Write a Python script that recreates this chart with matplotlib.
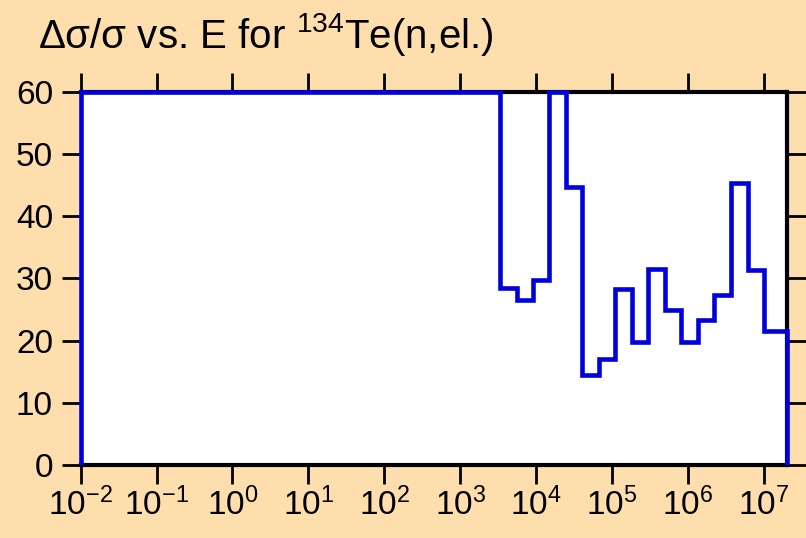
import numpy as np
import matplotlib.pyplot as plt
import matplotlib.ticker as mticker

plt.rcParams['font.family'] = ['Liberation Sans', 'DejaVu Sans']
plt.rcParams['mathtext.fontset'] = 'custom'
plt.rcParams['mathtext.rm'] = 'Liberation Sans'
plt.rcParams['mathtext.it'] = 'Liberation Sans'
plt.rcParams['mathtext.bf'] = 'Liberation Sans:bold'

# bin edges (eV) and relative uncertainty (%)
edges = [1e-2, 3.35e3, 5.6e3, 9.0e3, 1.5e4, 2.5e4, 4.0e4, 6.7e4, 1.1e5,
         1.83e5, 3.0e5, 5.0e5, 8.2e5, 1.35e6, 2.2e6, 3.7e6, 6.1e6, 1.0e7, 2.0e7]
dsig = [60, 28.4, 26.5, 29.8, 60, 44.7, 14.5, 17.0, 28.3,
        19.8, 31.6, 24.9, 19.8, 23.4, 27.3, 45.3, 31.3, 21.6]
xticks = [10.0 ** k for k in range(-2, 8)]

bg = '#FFDEAD'
fig = plt.figure(figsize=(8.06, 5.38), dpi=100, facecolor=bg)
ax = fig.add_axes([0.1001, 0.1357, 0.976 - 0.1001, 0.829 - 0.1357])
ax.set_facecolor('white')

ax.stairs(dsig, edges, baseline=0, color='#0000DD', lw=3.3, zorder=3, clip_on=False)

ax.set_xscale('log')
ax.set_xlim(1e-2, 2e7)
ax.set_ylim(0, 60)
ax.xaxis.set_major_locator(mticker.FixedLocator(xticks))
ax.xaxis.set_major_formatter(mticker.LogFormatterSciNotation())
ax.xaxis.set_minor_locator(mticker.NullLocator())
ax.yaxis.set_major_locator(mticker.MultipleLocator(10))

ax.tick_params(axis='both', which='major', direction='out', length=14, width=2,
               labelsize=24, top=True, right=True, color='black')
ax.tick_params(axis='y', pad=6)
ax.tick_params(axis='x', pad=2)

for s in ax.spines.values():
    s.set_linewidth(3)
ax.spines['left'].set_linewidth(1)

fig.text(38 / 806, 1 - 48 / 538, r'$\Delta\sigma/\sigma$ vs. E for $^{134}$Te(n,el.)',
         fontsize=29, ha='left', va='baseline')

fig.savefig('out.png', dpi=100, facecolor=bg)
